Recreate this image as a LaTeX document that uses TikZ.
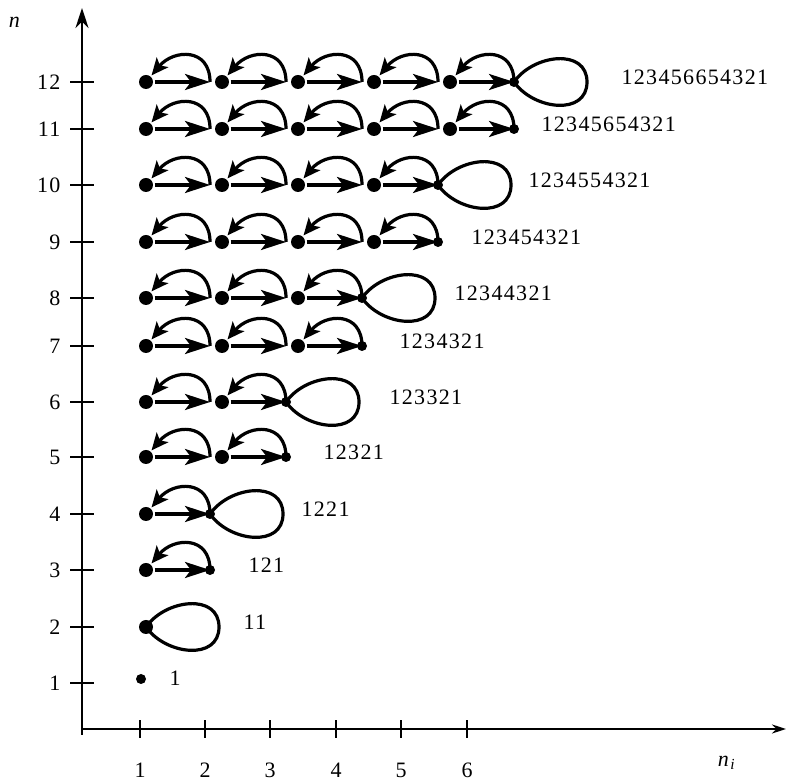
\documentclass[tikz,border=0pt]{standalone}
\usepackage{fontspec}
\setmainfont{Liberation Serif}[LetterSpace=6]
\usetikzlibrary{arrows.meta}

\tikzset{
	vdot/.style={circle,fill,inner sep=0pt,minimum size=14pt},
	edot/.style={circle,fill,inner sep=0pt,minimum size=10pt},
	fwd/.style={-{Stealth[length=25pt,width=16pt,inset=6pt]}},
	back/.style={-{Stealth[length=17pt,width=15pt,inset=4pt]},out=90,in=50,looseness=1.5},
	loopup/.style={out=55,in=90,looseness=1.2},
	loopdown/.style={out=-90,in=-55,looseness=1.2},
	word/.style={anchor=west,inner sep=0pt,yshift=5pt},
	axtick/.style={line width=2.2pt}
}

\begin{document}
\begin{tikzpicture}[x=1pt,y=1pt,line width=3.2pt,font=\fontsize{22}{22}\selectfont]
	\useasboundingbox (0,0) rectangle (787,781);
	% axes
	\coordinate (o) at (82,52);
	\coordinate (xmax) at (786,52);
	\coordinate (ymax) at (82,773);
	\draw[line width=2.2pt,-{Stealth[length=20pt,width=13pt]}] (82,46) -- (ymax);
	\draw[line width=2.2pt,-{Stealth[length=14pt,width=9pt]}] (o) -- (xmax);
	\node (nlab) at (15,759) {\textit{n}};
	\node (nilab) at (727,18) {\textit{n}\textsubscript{\textit{i}}};
	\foreach \i/\x in {1/140,2/205,3/270,4/336,5/401,6/467}{
		\draw[axtick] (\x,43) -- (\x,61);
		\node (x\i) at (\x,11) {\i};
	}
	\foreach \n/\y in {1/98,2/154,3/211,4/267,5/324,6/379,7/435,8/483,9/539,10/596,11/652,12/699}{
		\draw[axtick] (70,\y) -- (94,\y);
		\node[anchor=east,inner sep=0pt] (y\n) at (62,\y) {\n};
	}
	% rows 1 and 2
	\node[edot] (d1-0) at (141,102) {};
	\node[word] (w1) at (168,98) {1};
	\node[vdot] (d2-0) at (146,154) {};
	\coordinate (r2) at (219,154);
	\draw (d2-0.center) to[loopup] (r2) to[loopdown] (d2-0.center);
	\node[word] (w2) at (242,154) {11};
	% rows 3 to 12
	\foreach \n/\y/\s/\lx/\w in {3/211/1/247/121,4/267/1/300/1221,5/324/2/322/12321,
		6/379/2/388/123321,7/435/3/398/1234321,8/483/3/453/12344321,
		9/539/4/470/123454321,10/596/4/527/1234554321,
		11/652/5/540/12345654321,12/699/5/620/123456654321}{
		\foreach \i in {1,...,\s}{
			\node[vdot] (d\n-\i) at ({146+76*(\i-1)},\y) {};
			\coordinate (e\n-\i) at ({210+76*(\i-1)},\y);
			\draw[fwd] (d\n-\i) -- (e\n-\i);
			\draw[back] (e\n-\i) to (d\n-\i);
		}
		\ifodd\n
			\node[edot] (f\n) at (e\n-\s) {};
		\else
			\coordinate (r\n) at ({283+76*(\s-1)},\y);
			\draw (e\n-\s) to[loopup] (r\n) to[loopdown] (e\n-\s);
			\node[edot] (f\n) at (e\n-\s) {};
		\fi
		\node[word] (w\n) at (\lx,\y) {\w};
	}
\end{tikzpicture}
\end{document}
